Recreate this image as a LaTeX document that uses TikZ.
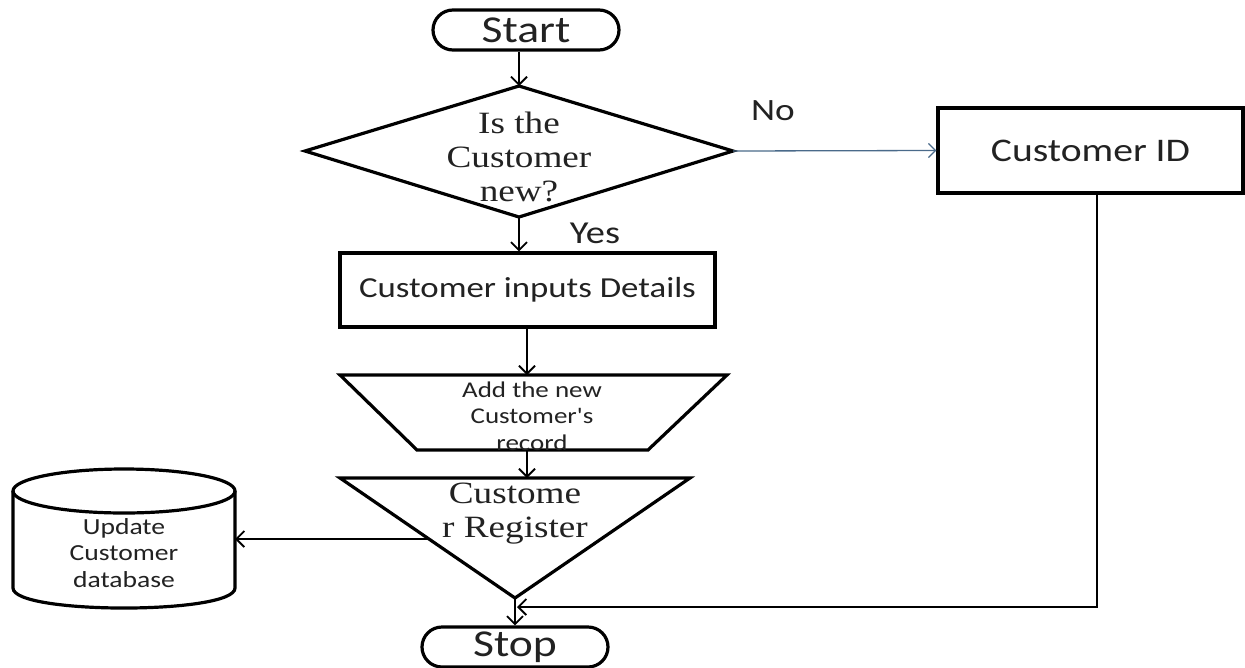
\documentclass[tikz,border=0pt]{standalone}
\usepackage{fontspec}
\usetikzlibrary{arrows.meta,shapes.misc}
\newfontfamily\sansf[FakeStretch=1.2]{Carlito}
\newfontfamily\seriff[FakeStretch=1.2]{Liberation Serif}
\definecolor{ink}{HTML}{222222}
\definecolor{noline}{HTML}{4A6A8A}
\tikzset{
  shape line/.style={draw=black, line width=3.2pt},
  conn/.style={draw=black, line width=2.5pt, -{Straight Barb[length=8pt,width=16pt,line width=1.8pt]}},
  stadium/.style={shape line, rounded rectangle, minimum width=186pt, minimum height=40pt, inner sep=0pt, text=ink, font=\sansf\fontsize{38}{40}\selectfont},
  boxnode/.style={shape line, rectangle, inner sep=0pt, text=ink},
  txt/.style={text=ink, align=center, inner sep=0pt},
}
\begin{document}
\begin{tikzpicture}[x=1pt,y=-1pt]
\useasboundingbox (0,0) rectangle (1245,667);
\fill[white] (0,0) rectangle (1245,667);

% Start / Stop
\node[stadium] (start) at (526,30) {\raisebox{-3pt}{Start}};
\node[stadium] (stop) at (515,647) {\raisebox{-3pt}{Stop}};

% Decision diamond
\coordinate (dL) at (305,151);
\coordinate (dT) at (519,86);
\coordinate (dR) at (733,151);
\coordinate (dB) at (519,217);
\draw[shape line, line join=miter] (dL) -- (dT) -- (dR) -- (dB) -- cycle;
\node[txt, font=\seriff\fontsize{31}{34}\selectfont] (dtext) at (519,157) {Is the\\Customer\\new?};

% Customer inputs Details
\node[boxnode, minimum width=375pt, minimum height=74pt, font=\sansf\fontsize{29}{30}\selectfont] (inputs) at (527.5,290) {\raisebox{-5pt}{Customer inputs Details}};

% Trapezoid
\coordinate (tzT) at (527,375);
\coordinate (tzB) at (527,450);
\draw[shape line] (340,375) -- (727,375) -- (648,450) -- (417,450) -- cycle;
\node[txt, font=\sansf\fontsize{22.5}{26.5}\selectfont] (tztext) at (532,416) {Add the new\\Customer's\\record};

% Inverted triangle
\coordinate (trT) at (527,478);
\coordinate (trApex) at (515,598);
\coordinate (trLeft) at (429,539);
\draw[shape line] (340,478) -- (690,478) -- (trApex) -- cycle;
\node[txt, font=\seriff\fontsize{31}{34}\selectfont] (trtext) at (515,514) {Custome\\r Register};

% Cylinder database
\coordinate (cylR) at (235,539);
\draw[shape line] (13,491) -- (13,588) .. controls (13,614.7) and (235,614.7) .. (235,588) -- (235,491);
\draw[shape line] (124,491) ellipse [x radius=111, y radius=22];
\node[txt, font=\sansf\fontsize{23}{26.5}\selectfont] (cyltext) at (124,553) {Update\\Customer\\database};

% Customer ID
\node[boxnode, minimum width=305pt, minimum height=85pt, font=\sansf\fontsize{33}{34}\selectfont] (cid) at (1090.5,150.5) {\raisebox{-5pt}{Customer ID}};

% Labels
\node[txt, font=\sansf\fontsize{31}{31}\selectfont] (nolbl) at (773,111) {No};
\node[txt, font=\sansf\fontsize{32}{32}\selectfont] (yeslbl) at (595,233) {Yes};

% Connectors
\draw[conn] (start.south -| dT) -- (dT);
\draw[conn] (dB) -- (inputs.north -| dB);
\draw[conn] (inputs.south -| tzT) -- (tzT);
\draw[conn] (tzB) -- (trT);
\draw[conn] (trLeft) -- (cylR);
\draw[conn] (trApex) -- (stop.north -| trApex);
\draw[draw=noline, line width=1.3pt, -{Straight Barb[length=7pt,width=14pt,line width=1.3pt]}] (dR) -- (cid.west);
\coordinate (ret) at (517,607);
\draw[conn] (cid.south -| 1097,0) -- (1097,607) -- (ret);
\end{tikzpicture}
\end{document}
